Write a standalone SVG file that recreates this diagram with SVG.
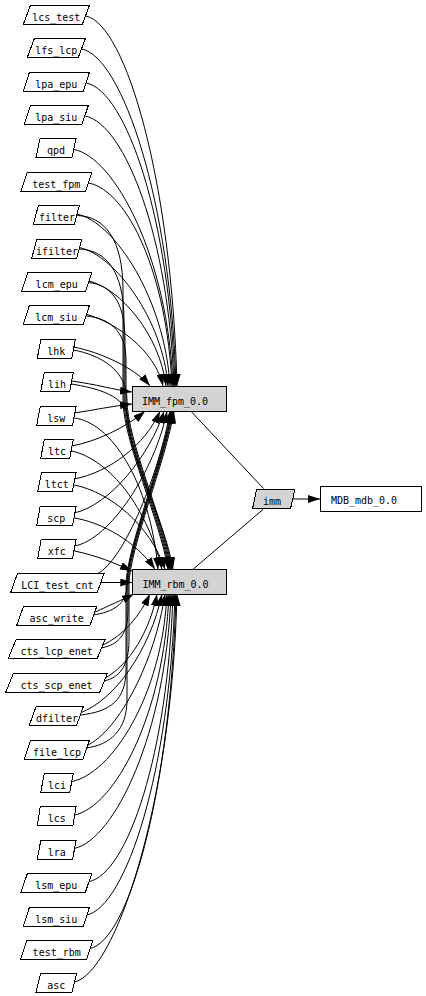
<svg xmlns="http://www.w3.org/2000/svg" width="426" height="996" viewBox="0 0 426 996">
<style>
.n polygon,.n rect{fill:#fff;stroke:#000;stroke-width:1;shape-rendering:crispEdges}
.g polygon,.g rect{fill:#d3d3d3;stroke:#000;stroke-width:1;shape-rendering:crispEdges}
text{font-family:"DejaVu Sans Mono","Liberation Mono",monospace;font-size:10px;fill:#000;text-anchor:middle}
#edges path{fill:none;stroke:#000;stroke-width:1}
#edges path.a{marker-end:url(#ah)}
</style>
<defs>
<marker id="ah" markerUnits="userSpaceOnUse" markerWidth="12" markerHeight="8" refX="12" refY="4" orient="auto" viewBox="0 0 12 8"><path d="M0,0 L12,4 L0,8 z" fill="#000"/></marker>
</defs>
<rect width="426" height="996" fill="#fff"/>
<g id="edges">
<path class="a" d="M85.8,16 C126,24 172,183 177,386"/>
<path class="a" d="M81.8,49 C122,57 171,201 176,386"/>
<path class="a" d="M86.3,83 C126,91 170,219 175,386"/>
<path class="a" d="M85.2,116 C125,124 169,238 174,386"/>
<path class="a" d="M74,149.5 C114,157 168,256 173,386"/>
<path class="a" d="M88.7,183 C128,191 167,274 172,386"/>
<path class="a" d="M76.8,214 C115,222 165,300 170,386"/>
<path class="a" d="M79.2,247.5 C115,255 163,320 168,386"/>
<path class="a" d="M88.7,281 C120,288 160,335 166,386"/>
<path class="a" d="M86.3,314.3 C115,322 155,350 163,386"/>
<path class="a" d="M73.5,347 C100,352 135,368 150,386"/>
<path class="a" d="M71.5,381 C95,384 115,390 132,392"/>
<path class="a" d="M76.8,215.5 C105,216 123,240 123,290 L123,400 C123,440 160,520 168,569.3"/>
<path class="a" d="M79.2,249 C105,250 124,270 124,320 L124,400 C124,440 161,520 169,569.3"/>
<path class="a" d="M88.7,282.5 C110,285 125,300 125,340 L125,400 C125,440 162,520 170,569.3"/>
<path class="a" d="M86.3,316 C108,318 126,330 126,360 L126,400 C126,440 163,520 171,569.3"/>
<path class="a" d="M73.5,350 C100,355 127,370 127,400 C127,440 164,520 172,569.3"/>
<path class="a" d="M71.5,384 C95,388 128,395 128,420 C130,460 165,520 173,569.3"/>
<path class="a" d="M74.2,413 C95,410 112,406 132,404"/>
<path class="a" d="M74.2,418 C110,422 150,480 158,569.3"/>
<path class="a" d="M71.5,446 C95,442 125,428 145,411.3"/>
<path class="a" d="M71.5,451 C105,458 145,500 162,569.3"/>
<path class="a" d="M74.2,479 C110,472 145,445 160,411.3"/>
<path class="a" d="M74.2,485 C110,492 150,525 165,569.3"/>
<path class="a" d="M74.3,513 C110,505 150,455 164,411.3"/>
<path class="a" d="M74.3,518 C100,522 135,540 155,569.3"/>
<path class="a" d="M74.3,546 C110,540 155,470 167,411.3"/>
<path class="a" d="M74.3,551 C95,555 115,563 132,571"/>
<path class="a" d="M100.6,582.5 L132.3,582.5"/>
<path class="a" d="M97,574 C125,560 160,470 170,411.3"/>
<path class="a" d="M93.3,613 C110,605 122,600 134,594"/>
<path class="a" d="M101,646 C125,635 140,615 150,594"/>
<path class="a" d="M103.5,679 C130,665 150,630 157,594"/>
<path class="a" d="M80,713 C115,700 150,650 162,594"/>
<path class="a" d="M86.2,746 C120,730 155,660 165,594"/>
<path class="a" d="M93.3,615 C112,612 127,605 127,585 C127,550 164,460 172,411.3"/>
<path class="a" d="M101,648 C118,645 128,635 128,610 L128,585 C128,550 165,460 173,411.3"/>
<path class="a" d="M103.5,681 C120,678 129,665 129,640 L129,585 C129,550 166,460 174,411.3"/>
<path class="a" d="M80,715 C110,712 126,700 126,670 L126,585 C126,550 163,460 171,411.3"/>
<path class="a" d="M86.2,748 C110,745 127,730 127,700 L127,585 C127,550 164,460 172,411.3"/>
<path class="a" d="M71.5,781.6 C111,774 162,697 167,594"/>
<path class="a" d="M74.5,815 C114,807 164,716 169,594"/>
<path class="a" d="M74.3,848.4 C114,840 166,734 171,594"/>
<path class="a" d="M88.5,881.8 C128,874 168,752 173,594"/>
<path class="a" d="M86.3,915.2 C126,907 170,771 175,594"/>
<path class="a" d="M89.7,948.6 C129,941 171,789 176,594"/>
<path class="a" d="M74.3,982 C114,974 172,808 177,594"/>
<path d="M191,411.3 L263.5,488.5"/>
<path d="M193,569.3 L263.5,509"/>
<path class="a" d="M290.7,499 L320,499"/>
</g>
<g id="lcs_test" class="n" transform="translate(0,15)"><polygon points="23.3,9.35 82.3,9.35 89.3,-9.35 30.3,-9.35"/><text x="56.3" y="6">lcs_test</text></g>
<g id="lfs_lcp" class="n" transform="translate(0,48)"><polygon points="27.3,9.35 78.3,9.35 85.3,-9.35 34.3,-9.35"/><text x="56.3" y="6">lfs_lcp</text></g>
<g id="lpa_epu" class="n" transform="translate(0,82)"><polygon points="23.3,9.35 83.3,9.35 89.3,-9.35 29.3,-9.35"/><text x="56.3" y="6">lpa_epu</text></g>
<g id="lpa_siu" class="n" transform="translate(0,115)"><polygon points="24.3,9.35 82,9.35 88.3,-9.35 30.6,-9.35"/><text x="56.3" y="6">lpa_siu</text></g>
<g id="qpd" class="n" transform="translate(0,148)"><polygon points="36,9.35 72,9.35 76,-9.35 40,-9.35"/><text x="56" y="6">qpd</text></g>
<g id="test_fpm" class="n" transform="translate(0,182)"><polygon points="21,9.35 85.7,9.35 91.7,-9.35 27,-9.35"/><text x="56.3" y="6">test_fpm</text></g>
<g id="filter" class="n" transform="translate(0,215)"><polygon points="33.3,9.35 74.3,9.35 79.3,-9.35 38.3,-9.35"/><text x="57" y="6">filter</text></g>
<g id="ifilter" class="n" transform="translate(0,249)"><polygon points="31.7,9.35 76.7,9.35 81.7,-9.35 36.7,-9.35"/><text x="57" y="6">ifilter</text></g>
<g id="lcm_epu" class="n" transform="translate(0,282)"><polygon points="21.7,9.35 85.7,9.35 91.7,-9.35 27.7,-9.35"/><text x="56.7" y="6">lcm_epu</text></g>
<g id="lcm_siu" class="n" transform="translate(0,315)"><polygon points="23.3,9.35 83.3,9.35 89.3,-9.35 29.3,-9.35"/><text x="56.3" y="6">lcm_siu</text></g>
<g id="lhk" class="n" transform="translate(0,349)"><polygon points="37.3,9.35 71.8,9.35 75.3,-9.35 40.8,-9.35"/><text x="56.3" y="6">lhk</text></g>
<g id="lih" class="n" transform="translate(0,382)"><polygon points="40.7,9.35 69.7,9.35 73.3,-9.35 44.3,-9.35"/><text x="57" y="6">lih</text></g>
<g id="lsw" class="n" transform="translate(0,416)"><polygon points="36.7,9.35 72.5,9.35 76,-9.35 40.2,-9.35"/><text x="56.3" y="6">lsw</text></g>
<g id="ltc" class="n" transform="translate(0,449)"><polygon points="40.7,9.35 69.7,9.35 73.3,-9.35 44.3,-9.35"/><text x="57" y="6">ltc</text></g>
<g id="ltct" class="n" transform="translate(0,482)"><polygon points="37.7,9.35 72.3,9.35 76,-9.35 41.4,-9.35"/><text x="56.8" y="6">ltct</text></g>
<g id="scp" class="n" transform="translate(0,516)"><polygon points="36.7,9.35 72.6,9.35 76,-9.35 40.1,-9.35"/><text x="56.3" y="6">scp</text></g>
<g id="xfc" class="n" transform="translate(0,549)"><polygon points="37.7,9.35 72.6,9.35 76,-9.35 41.1,-9.35"/><text x="56.8" y="6">xfc</text></g>
<g id="LCI_test_cnt" class="n" transform="translate(0,583)"><polygon points="10.7,9.35 97.3,9.35 104,-9.35 17.4,-9.35"/><text x="57.3" y="6">LCI_test_cnt</text></g>
<g id="asc_write" class="n" transform="translate(0,616)"><polygon points="16.7,9.35 90,9.35 96.7,-9.35 23.4,-9.35"/><text x="56.7" y="6">asc_write</text></g>
<g id="cts_lcp_enet" class="n" transform="translate(0,649)"><polygon points="8.3,9.35 97.3,9.35 105,-9.35 16,-9.35"/><text x="56.7" y="6">cts_lcp_enet</text></g>
<g id="cts_scp_enet" class="n" transform="translate(0,683)"><polygon points="5.7,9.35 99.7,9.35 107.3,-9.35 13.3,-9.35"/><text x="56.5" y="6">cts_scp_enet</text></g>
<g id="dfilter" class="n" transform="translate(0,716)"><polygon points="29.3,9.35 76.6,9.35 83.3,-9.35 36,-9.35"/><text x="57" y="6">dfilter</text></g>
<g id="file_lcp" class="n" transform="translate(0,750)"><polygon points="24.3,9.35 83,9.35 89.3,-9.35 30.6,-9.35"/><text x="57" y="6">file_lcp</text></g>
<g id="lci" class="n" transform="translate(0,783)"><polygon points="40.7,9.35 69.7,9.35 73.3,-9.35 44.3,-9.35"/><text x="57" y="6">lci</text></g>
<g id="lcs" class="n" transform="translate(0,816)"><polygon points="37.3,9.35 73,9.35 76,-9.35 40.3,-9.35"/><text x="56.7" y="6">lcs</text></g>
<g id="lra" class="n" transform="translate(0,850)"><polygon points="37.3,9.35 72.6,9.35 76,-9.35 40.7,-9.35"/><text x="56.7" y="6">lra</text></g>
<g id="lsm_epu" class="n" transform="translate(0,883)"><polygon points="21,9.35 85.4,9.35 91.7,-9.35 27.3,-9.35"/><text x="56.3" y="6">lsm_epu</text></g>
<g id="lsm_siu" class="n" transform="translate(0,917)"><polygon points="23.3,9.35 83.3,9.35 89.3,-9.35 29.3,-9.35"/><text x="56.3" y="6">lsm_siu</text></g>
<g id="test_rbm" class="n" transform="translate(0,950)"><polygon points="20.7,9.35 86.7,9.35 92.7,-9.35 26.7,-9.35"/><text x="56.7" y="6">test_rbm</text></g>
<g id="asc" class="n" transform="translate(0,983)"><polygon points="36,9.35 72,9.35 76.7,-9.35 40.7,-9.35"/><text x="56.3" y="6">asc</text></g>
<g id="IMM_fpm_0.0" class="g"><rect x="132.3" y="386" width="93.7" height="25.3"/><text x="175" y="405">IMM_fpm_0.0</text></g>
<g id="IMM_rbm_0.0" class="g"><rect x="132.3" y="569.3" width="94.4" height="24.7"/><text x="175.5" y="588">IMM_rbm_0.0</text></g>
<g id="imm" class="g"><polygon points="252.7,508 290.7,508 295,489 256.7,489"/><text x="272" y="505">imm</text></g>
<g id="MDB_mdb_0.0" class="n"><rect x="320" y="486.7" width="101.7" height="24.6"/><text x="364" y="503.5">MDB_mdb_0.0</text></g>
</svg>
